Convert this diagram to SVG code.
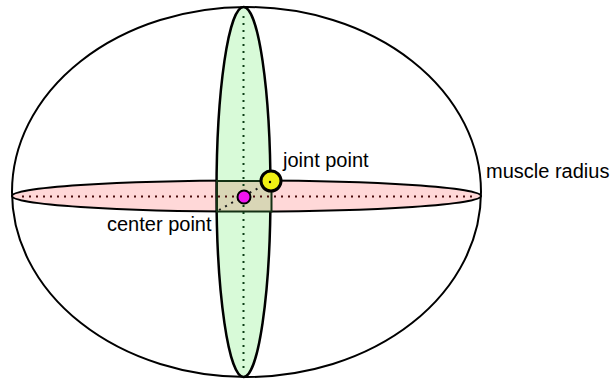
<svg xmlns="http://www.w3.org/2000/svg" width="610" height="379" viewBox="0 0 610 379">
<style>
.lbl{font-family:"Liberation Sans",Arial,sans-serif;font-size:20px;fill:#000}
.dot{fill:none;stroke-width:2;stroke-dasharray:2 5}
</style>
<rect width="610" height="379" fill="#fff"/>
<g id="muscle">
<ellipse cx="246.5" cy="192" rx="234.5" ry="185" fill="none" stroke="#000" stroke-width="2"/>
</g>
<g id="pink-axis">
<ellipse cx="246.5" cy="196" rx="234.5" ry="15.5" fill="#ffd8d8" stroke="#000" stroke-width="2"/>
</g>
<g id="green-axis">
<ellipse cx="243.5" cy="192" rx="27" ry="185" fill="#d8fad8" stroke="#000" stroke-width="2.5"/>
</g>
<g id="overlap">
<rect x="217" y="181" width="54.5" height="30.5" fill="#d9d6b6" stroke="#143014" stroke-width="2"/>
</g>
<g id="connectors">
<line class="dot" x1="22" y1="196.5" x2="476" y2="196.5" stroke="#4a0c0c"/>
<line class="dot" x1="243.5" y1="16" x2="243.5" y2="370" stroke="#0c3f16"/>
<line class="dot" x1="219" y1="210" x2="271" y2="181" stroke="#1a1a1a"/>
</g>
<g id="center-point">
<circle cx="244" cy="197" r="6.5" fill="#f014f0" stroke="#000" stroke-width="2"/>
</g>
<g id="joint-point">
<circle cx="271" cy="181" r="10" fill="#f0f014" stroke="#000" stroke-width="3"/>
<circle cx="270" cy="182" r="1.2" fill="#000"/>
</g>
<text class="lbl" x="283" y="167">joint point</text>
<text class="lbl" x="486" y="178">muscle radius</text>
<text class="lbl" x="107" y="231">center point</text>
</svg>
